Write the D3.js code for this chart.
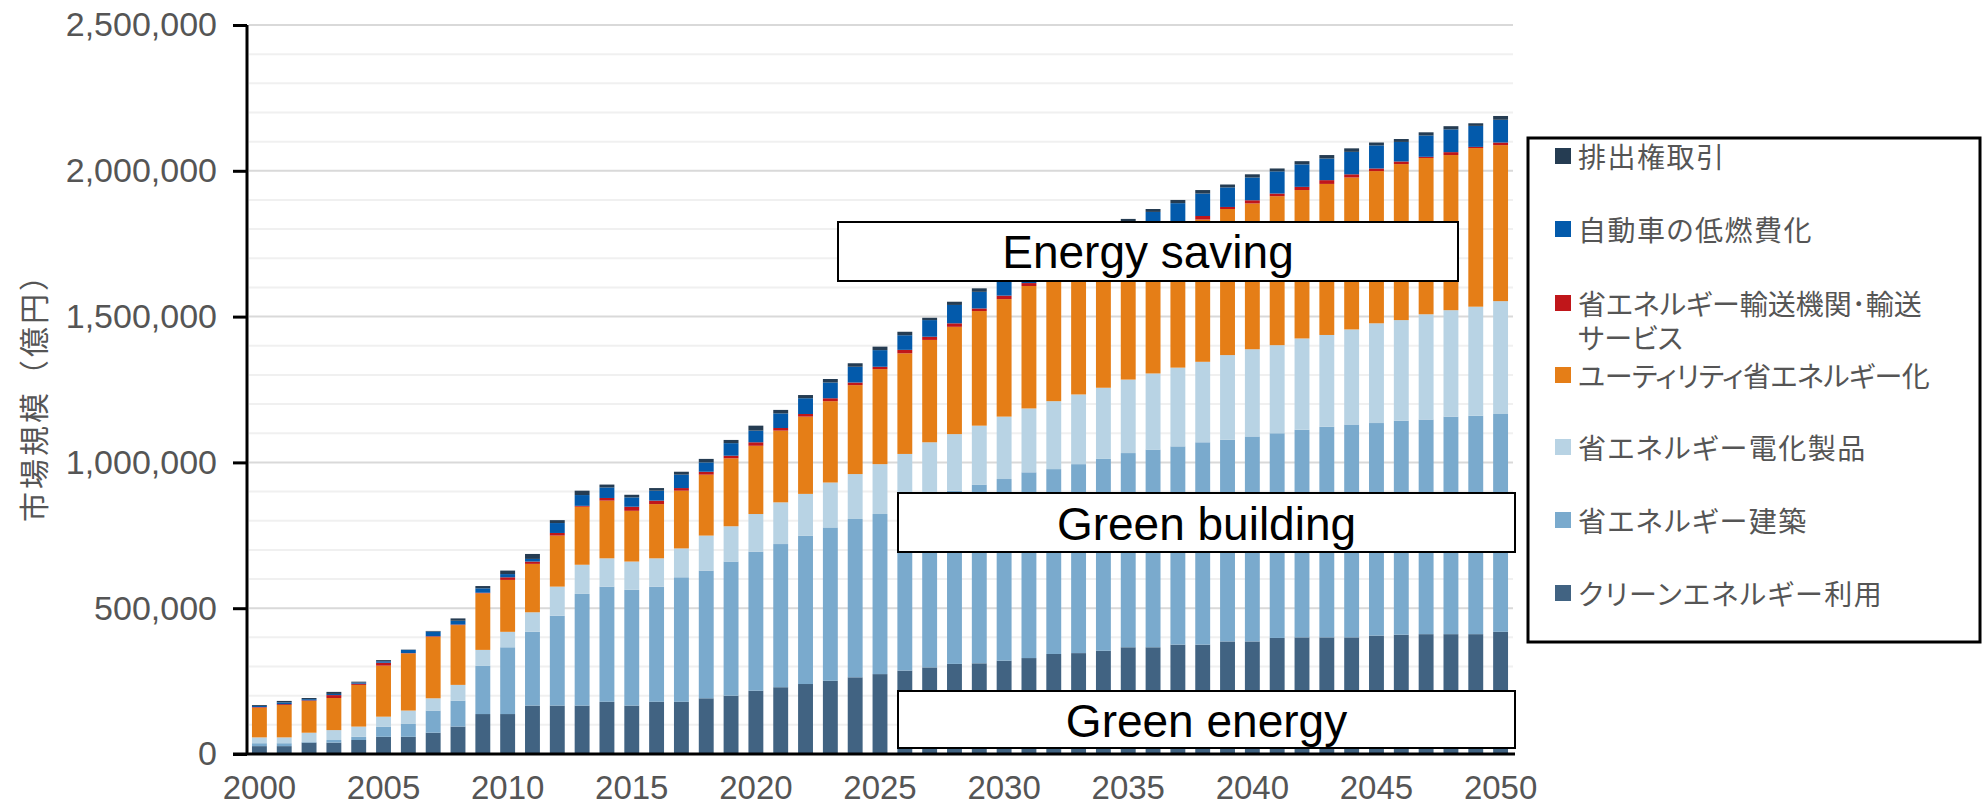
<!DOCTYPE html>
<html>
<head>
<meta charset="utf-8">
<script src="https://cdn.jsdelivr.net/npm/d3@7"></script>
<style>
  html, body { margin: 0; padding: 0; background: #fff; }
  svg { display: block; }
  .jp { font-family: "Noto Sans CJK JP", sans-serif; }
  .legend-text { font-feature-settings: "palt"; }
</style>
</head>
<body>
<div class="result"></div>
<script>
// Categories (years)
const years = [2000, 2001, 2002, 2003, 2004, 2005, 2006, 2007, 2008, 2009,
  2010, 2011, 2012, 2013, 2014, 2015, 2016, 2017, 2018, 2019,
  2020, 2021, 2022, 2023, 2024, 2025, 2026, 2027, 2028, 2029,
  2030, 2031, 2032, 2033, 2034, 2035, 2036, 2037, 2038, 2039,
  2040, 2041, 2042, 2043, 2044, 2045, 2046, 2047, 2048, 2049,
  2050];

// Series values (億円), bottom to top
const cleanEnergy = [27000, 27000, 39000, 39000, 48000, 59000, 59000, 73000, 94000, 137000,
  137000, 166000, 166000, 166000, 179000, 166000, 179000, 179000, 191000, 200000,
  217000, 229000, 240000, 251000, 263000, 274000, 286000, 297000, 309000, 311000,
  320000, 329000, 343000, 346000, 354000, 366000, 366000, 375000, 375000, 386000,
  386000, 398000, 400000, 400000, 400000, 406000, 409000, 411000, 411000, 411000,
  419000];
const building = [10000, 10000, 2000, 9000, 11000, 35000, 44000, 76000, 89000, 165000,
  229000, 253000, 308000, 383000, 395000, 397000, 395000, 427000, 438000, 460000,
  477000, 491000, 509000, 526000, 543000, 549000, 564000, 579000, 594000, 613000,
  623000, 637000, 634000, 648000, 658000, 666000, 678000, 680000, 694000, 692000,
  703000, 702000, 712000, 722000, 730000, 729000, 734000, 736000, 746000, 749000,
  747000];
const appliances = [20000, 20000, 32000, 34000, 35000, 34000, 46000, 42000, 54000, 55000,
  53000, 67000, 100000, 100000, 97000, 97000, 97000, 99000, 120000, 121000,
  129000, 143000, 143000, 154000, 154000, 171000, 179000, 193000, 194000, 202000,
  214000, 219000, 233000, 239000, 244000, 252000, 261000, 270000, 276000, 290000,
  299000, 302000, 313000, 315000, 326000, 342000, 345000, 361000, 365000, 374000,
  387000];
const utility = [102000, 111000, 109000, 110000, 143000, 175000, 196000, 211000, 205000, 194000,
  178000, 166000, 175000, 199000, 198000, 174000, 186000, 198000, 209000, 233000,
  234000, 246000, 265000, 279000, 305000, 326000, 345000, 351000, 368000, 393000,
  403000, 420000, 430000, 447000, 459000, 466000, 480000, 483000, 488000, 501000,
  500000, 511000, 509000, 518000, 521000, 522000, 535000, 536000, 532000, 544000,
  535000];
const transport = [2000, 3000, 2000, 10000, 4000, 10000, 1000, 2000, 2000, 2000,
  9000, 8000, 9000, 3000, 9000, 14000, 12000, 9000, 10000, 9000,
  12000, 9000, 9000, 10000, 9000, 8000, 12000, 11000, 12000, 9000,
  12000, 10000, 10000, 10000, 10000, 10000, 10000, 10000, 12000, 7000,
  11000, 9000, 11000, 13000, 11000, 9000, 9000, 4000, 10000, 4000,
  9000];
const vehicles = [4000, 6000, 4000, 4000, 4000, 5000, 11000, 16000, 13000, 15000,
  11000, 9000, 34000, 37000, 36000, 32000, 34000, 46000, 32000, 43000,
  40000, 50000, 54000, 54000, 54000, 57000, 50000, 57000, 63000, 57000,
  58000, 58000, 63000, 63000, 64000, 64000, 64000, 71000, 77000, 67000,
  78000, 76000, 77000, 74000, 77000, 79000, 67000, 73000, 78000, 72000,
  78000];
const emission = [3000, 5000, 4000, 7000, 3000, 4000, 1000, 2000, 8000, 8000,
  12000, 17000, 10000, 15000, 10000, 9000, 9000, 10000, 12000, 11000,
  17000, 12000, 11000, 12000, 12000, 12000, 12000, 8000, 11000, 12000,
  12000, 12000, 12000, 12000, 11000, 11000, 10000, 11000, 12000, 10000,
  11000, 10000, 11000, 12000, 12000, 10000, 10000, 11000, 11000, 9000,
  13000];

// Series names (stack order, bottom to top) and tick labels
const seriesKeys = ['clean', 'building', 'appliances', 'utility', 'transport', 'vehicles', 'emission'];
const seriesNames = ['クリーンエネルギー利用', '省エネルギー建築', '省エネルギー電化製品',
  'ユーティリティ省エネルギー化', '省エネルギー輸送機関・輸送サービス', '自動車の低燃費化', '排出権取引'];
const seriesColors = ['#416382', '#7aaacd', '#b8d3e4', '#e57e17', '#c0161a', '#035aab', '#253c52'];
const yTicks = [0, 500000, 1000000, 1500000, 2000000, 2500000];
const yMinorTicks = [100000, 200000, 300000, 400000, 600000, 700000, 800000, 900000,
  1100000, 1200000, 1300000, 1400000, 1600000, 1700000, 1800000, 1900000,
  2100000, 2200000, 2300000, 2400000];
const xTickYears = [2000, 2005, 2010, 2015, 2020, 2025, 2030, 2035, 2040, 2045, 2050];
const yTitle = '市場規模（億円）';

// Width and height
const w = 1983;
const h = 806;
const plotLeft = 247;
const plotRight = 1513;
const plotTop = 25;
const plotBottom = 754;

// Build rows for the stack
const rows = years.map(function (y, i) {
  return {
    year: y,
    clean: cleanEnergy[i],
    building: building[i],
    appliances: appliances[i],
    utility: utility[i],
    transport: transport[i],
    vehicles: vehicles[i],
    emission: emission[i]
  };
});
const stacked = d3.stack().keys(seriesKeys)(rows);

// Create scale functions
const xScale = d3.scaleBand()
  .domain(years)
  .range([plotLeft, plotRight])
  .paddingInner(0.4)
  .paddingOuter(0.2);

const yScale = d3.scaleLinear()
  .domain([0, 2500000])
  .range([plotBottom, plotTop]);

// Create SVG element
const svg = d3.select('.result')
  .append('svg')
  .attr('width', w)
  .attr('height', h);

// Gridlines
svg.append('g')
  .selectAll('line')
  .data(yMinorTicks)
  .enter()
  .append('line')
  .attr('x1', plotLeft + 2)
  .attr('x2', plotRight)
  .attr('y1', function (d) { return yScale(d); })
  .attr('y2', function (d) { return yScale(d); })
  .attr('stroke', '#f0f0f0')
  .attr('stroke-width', 2);

svg.append('g')
  .selectAll('line')
  .data(yTicks.slice(1))
  .enter()
  .append('line')
  .attr('x1', plotLeft + 2)
  .attr('x2', plotRight)
  .attr('y1', function (d) { return yScale(d); })
  .attr('y2', function (d) { return yScale(d); })
  .attr('stroke', '#d9d9d9')
  .attr('stroke-width', 2);

// Create stacked bars
svg.append('g')
  .selectAll('g')
  .data(stacked)
  .enter()
  .append('g')
  .attr('fill', function (d, i) { return seriesColors[i]; })
  .selectAll('rect')
  .data(function (d) { return d; })
  .enter()
  .append('rect')
  .attr('x', function (d) { return xScale(d.data.year); })
  .attr('width', xScale.bandwidth())
  .attr('y', function (d) { return yScale(d[1]); })
  .attr('height', function (d) { return yScale(d[0]) - yScale(d[1]); });

// Define and create Y axis
const yAxis = d3.axisLeft(yScale)
  .tickValues(yTicks)
  .tickSize(14)
  .tickPadding(16)
  .tickFormat(d3.format(','));

const yAxisG = svg.append('g')
  .attr('transform', 'translate(' + plotLeft + ',0)')
  .call(yAxis);
yAxisG.select('.domain')
  .attr('stroke', '#000')
  .attr('stroke-width', 3)
  .attr('d', 'M0,' + plotTop + 'V' + plotBottom);
yAxisG.selectAll('.tick line')
  .attr('stroke', '#000')
  .attr('stroke-width', 3);
yAxisG.selectAll('.tick text')
  .attr('fill', '#555')
  .style('font-family', '"Liberation Sans", Arial, sans-serif')
  .style('font-size', '34px');

// Define and create X axis
const xAxis = d3.axisBottom(xScale)
  .tickValues(xTickYears)
  .tickSize(0)
  .tickPadding(22);

const xAxisG = svg.append('g')
  .attr('transform', 'translate(0,' + plotBottom + ')')
  .call(xAxis);
xAxisG.select('.domain')
  .attr('stroke', '#000')
  .attr('stroke-width', 3)
  .attr('d', 'M' + (plotLeft - 14) + ',0H' + (plotRight + 2));
xAxisG.selectAll('.tick text')
  .attr('fill', '#555')
  .style('font-family', '"Liberation Sans", Arial, sans-serif')
  .style('font-size', '33px');

// Y axis title
svg.append('text')
  .attr('class', 'jp')
  .attr('transform', 'translate(32,390) rotate(-90)')
  .attr('text-anchor', 'middle')
  .attr('dominant-baseline', 'central')
  .attr('fill', '#555')
  .style('font-size', '30px')
  .style('letter-spacing', '3px')
  .text(yTitle);

// Annotation boxes
const notes = [
  { label: 'Energy saving', x0: 838, x1: 1458, y0: 222, y1: 281, base: 268 },
  { label: 'Green building', x0: 898, x1: 1515, y0: 493, y1: 552, base: 540 },
  { label: 'Green energy', x0: 898, x1: 1515, y0: 691, y1: 748, base: 737 }
];
const noteG = svg.append('g')
  .selectAll('g')
  .data(notes)
  .enter()
  .append('g');
noteG.append('rect')
  .attr('x', function (d) { return d.x0; })
  .attr('y', function (d) { return d.y0; })
  .attr('width', function (d) { return d.x1 - d.x0; })
  .attr('height', function (d) { return d.y1 - d.y0; })
  .attr('fill', '#fff')
  .attr('stroke', '#000')
  .attr('stroke-width', 2);
noteG.append('text')
  .attr('x', function (d) { return (d.x0 + d.x1) / 2; })
  .attr('y', function (d) { return d.base; })
  .attr('text-anchor', 'middle')
  .style('font-family', '"Liberation Sans", Arial, sans-serif')
  .style('font-size', '46px')
  .attr('fill', '#000')
  .text(function (d) { return d.label; });

// Legend
svg.append('rect')
  .attr('x', 1528)
  .attr('y', 138)
  .attr('width', 452)
  .attr('height', 504)
  .attr('fill', '#fff')
  .attr('stroke', '#000')
  .attr('stroke-width', 3);

const legendOrder = [6, 5, 4, 3, 2, 1, 0];
const legendY = [156, 229, 303, 375, 447, 520, 593];
const legend = svg.append('g')
  .selectAll('g')
  .data(legendOrder)
  .enter()
  .append('g')
  .attr('transform', function (d, i) { return 'translate(1555,' + legendY[i] + ')'; });
legend.append('rect')
  .attr('x', 0)
  .attr('y', -8)
  .attr('width', 16)
  .attr('height', 16)
  .attr('fill', function (d) { return seriesColors[d]; });
legend.append('text')
  .attr('class', 'jp legend-text')
  .attr('x', 23)
  .attr('y', 0)
  .attr('dominant-baseline', 'central')
  .attr('fill', '#555')
  .style('font-size', '28px')
  .style('letter-spacing', function (d) {
    // the kana-heavy names are set tighter in the original
    if (d === 3) return '-0.5px';
    if (d === 4) return '0px';
    return '1.5px';
  })
  .each(function (d) {
    const name = seriesNames[d];
    const t = d3.select(this);
    if (d === 4) {
      // wrap the long name onto two lines
      t.append('tspan').attr('x', 23).text('省エネルギー輸送機関･輸送');
      t.append('tspan').attr('x', 23).attr('dy', 34).text('サービス');
    } else {
      t.text(name);
    }
  });
</script>
</body>
</html>
